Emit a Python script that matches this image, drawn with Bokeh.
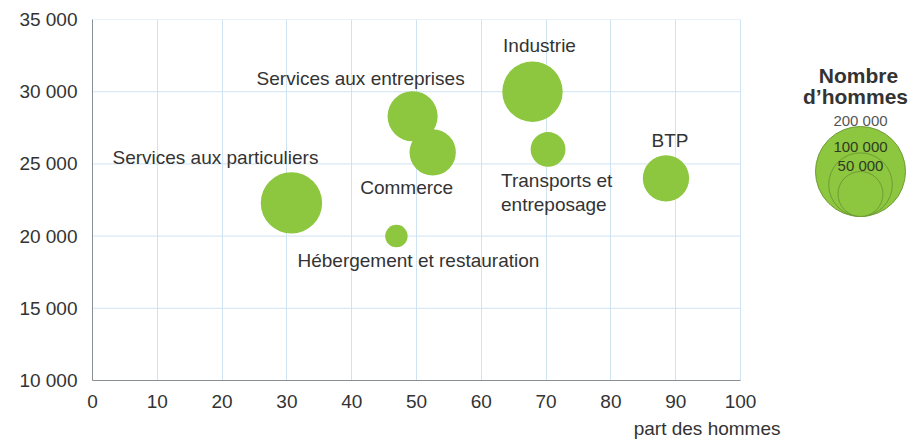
from bokeh.plotting import figure
from bokeh.models import FixedTicker, Range1d, Title, ColumnDataSource
from bokeh.embed import file_html
from bokeh.resources import INLINE
from bokeh.core.properties import value
import math

# ---- data ----
secteurs = ["Services aux particuliers", "Services aux entreprises", "Commerce",
            "Industrie", "Transports et\nentreposage", "BTP",
            "Hébergement et restauration"]
part_hommes = [30.7, 49.4, 52.5, 67.9, 70.3, 88.5, 46.9]
salaire = [22300, 28300, 25800, 30000, 26000, 24000, 20000]
nombre_hommes = [93000, 62000, 53000, 90000, 30000, 53000, 12500]

x_ticks = [0, 10, 20, 30, 40, 50, 60, 70, 80, 90, 100]
y_ticks = [10000, 15000, 20000, 25000, 30000, 35000]
y_tick_labels = ["10 000", "15 000", "20 000", "25 000", "30 000", "35 000"]
x_title = "part des hommes"

legende_titre = ["Nombre", "d’hommes"]
legende_valeurs = [200000, 100000, 50000]
legende_labels = ["200 000", "100 000", "50 000"]

# ---- style ----
FONT = "Liberation Sans"
GREEN = "#8dc63f"
TXT = "#333333"
GRID = "#cfe4f3"
R_MAX = 45.0      # px radius for 200 000
V_MAX = 200000.0

FRAME_LEFT, FRAME_TOP = 92, 19
PX_PER_X = 6.48          # px per x unit
FRAME_W = 823
FRAME_H = 361
X0, X1 = 0, FRAME_W / PX_PER_X
Y0, Y1 = 10000, 35000

# label placement (screen px offsets from bubble centre, y down)
lab_dx = [-76, -52, -26, 7, -47, 4, 22]
lab_dy = [-45, -38, 35, -46, 43, -38, 24]
lab_align = ["center", "center", "center", "center", "left", "center", "center"]


def diam(v):
    return 2 * R_MAX * math.sqrt(v / V_MAX)


def px_to_x(px):
    return X0 + (px - FRAME_LEFT) / PX_PER_X


def py_to_y(py):
    return Y1 - (py - FRAME_TOP) * (Y1 - Y0) / FRAME_H


p = figure(frame_width=FRAME_W, frame_height=FRAME_H,
           x_range=Range1d(X0, X1), y_range=Range1d(Y0, Y1),
           output_backend="svg", toolbar_location=None,
           min_border_left=FRAME_LEFT, min_border_right=0,
           min_border_top=FRAME_TOP, min_border_bottom=10)
p.title.visible = False
p.outline_line_color = None
p.background_fill_color = "white"
p.border_fill_color = "white"
p.xgrid.grid_line_color = GRID
p.ygrid.grid_line_color = None
p.xaxis.ticker = FixedTicker(ticks=x_ticks)
p.yaxis.ticker = FixedTicker(ticks=y_ticks)
p.xaxis.bounds = (x_ticks[0], x_ticks[-1])
p.yaxis.major_label_overrides = {t: l for t, l in zip(y_ticks, y_tick_labels)}
for ax in (p.xaxis, p.yaxis):
    ax.axis_line_color = "#8a8f93"
    ax.major_tick_line_color = None
    ax.minor_tick_line_color = None
    ax.major_label_text_font = FONT
    ax.major_label_text_font_size = "19px"
    ax.major_label_text_color = TXT
p.xaxis.major_label_standoff = 8
p.yaxis.major_label_standoff = 9

# horizontal grid lines limited to the 0-100 area
gr = p.segment(x0=[x_ticks[0]] * len(y_ticks), x1=[x_ticks[-1]] * len(y_ticks),
               y0=y_ticks, y1=y_ticks, line_color=GRID, line_width=1)
gr.level = "underlay"

src = ColumnDataSource(dict(x=part_hommes, y=salaire,
                            size=[diam(v) for v in nombre_hommes]))
p.scatter(x="x", y="y", size="size", source=src, marker="circle",
          fill_color=GREEN, line_color=None)

for al in ("center", "left"):
    idx = [i for i, a in enumerate(lab_align) if a == al]
    s = ColumnDataSource(dict(x=[part_hommes[i] for i in idx],
                              y=[salaire[i] for i in idx],
                              t=[secteurs[i] for i in idx],
                              dx=[lab_dx[i] for i in idx],
                              dy=[lab_dy[i] for i in idx]))
    p.text(x="x", y="y", text="t", x_offset="dx", y_offset="dy", source=s,
           text_align=al, text_baseline="middle",
           text_font=value(FONT), text_font_size="19px", text_color=TXT,
           text_line_height=1.15)

p.add_layout(Title(text=x_title, align="right", offset=135, standoff=10,
                   text_font=FONT, text_font_size="19px", text_color=TXT,
                   text_font_style="normal"), "below")

# ---- size legend (placed right of the plot area) ----
leg_cx, leg_bottom = 860, 216
lr = [diam(v) / 2 for v in legende_valeurs]
lsrc = ColumnDataSource(dict(x=[px_to_x(leg_cx)] * len(lr),
                             y=[py_to_y(leg_bottom - r) for r in lr],
                             size=[2 * r for r in lr]))
p.scatter(x="x", y="y", size="size", source=lsrc, marker="circle",
          fill_color=GREEN, line_color="#6f9c36", line_width=1)
p.text(x=[px_to_x(leg_cx)] * len(lr),
       y=[py_to_y(leg_bottom - 2 * r - 6) for r in lr], text=legende_labels,
       text_align="center", text_baseline="middle",
       text_font=value(FONT), text_font_size="15px",
       text_color=["#555555", "#2f3a22", "#2f3a22"])
p.text(x=[px_to_x(858), px_to_x(855)], y=[py_to_y(75), py_to_y(96)],
       text=legende_titre, text_align="center", text_baseline="middle",
       text_font=value(FONT), text_font_size="21px", text_font_style="bold",
       text_color=TXT)

open("out.html", "w").write(file_html(p, INLINE))
